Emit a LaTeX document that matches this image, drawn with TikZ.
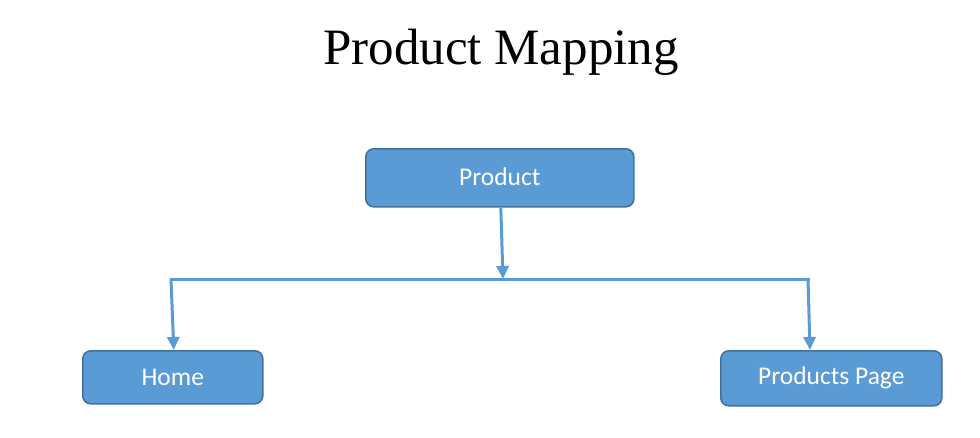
\documentclass[tikz,border=0pt]{standalone}
\usepackage{fontspec}
\setmainfont{Liberation Serif}
\newfontfamily\boxfont{Carlito}
\usetikzlibrary{arrows.meta}
\definecolor{boxfill}{HTML}{5B9BD5}
\definecolor{boxline}{HTML}{41719C}
\definecolor{conn}{HTML}{5B9BD5}
\tikzset{
  boxnode/.style={draw=boxline, line width=1.6pt, fill=boxfill, rounded corners=8pt,
    text=white, font=\boxfont\fontsize{25.5}{28}\selectfont, inner sep=0pt, anchor=north west},
  connline/.style={draw=conn, line width=3pt},
  connarrow/.style={connline, -{Triangle[width=12pt,length=13pt]}}
}
\begin{document}
\begin{tikzpicture}[x=1pt,y=-1pt]
\useasboundingbox (0,0) rectangle (980,437);
\node (title) at (501,52) {\fontsize{51}{60}\selectfont Product Mapping};
\node[boxnode, minimum width=268pt, minimum height=58pt] (prod) at (365,148) {\raisebox{1.5pt}{Product}};
\node[boxnode, minimum width=180pt, minimum height=53pt] (home) at (82,350) {Home};
\node[boxnode, minimum width=221pt, minimum height=55pt] (pp) at (720,350) {Products Page};
\coordinate (mid) at (503,279);
\coordinate (L) at (171,279);
\coordinate (R) at (808,279);
\coordinate (ppin) at ([xshift=90pt]pp.north west);
\draw[connarrow] ([xshift=1pt]prod.south) -- (mid);
\draw[connline] ([xshift=-1.5pt]L) -- ([xshift=1.5pt]R);
\draw[connarrow] (L) -- ([xshift=1pt]home.north);
\draw[connarrow] (R) -- (ppin);
\end{tikzpicture}
\end{document}
